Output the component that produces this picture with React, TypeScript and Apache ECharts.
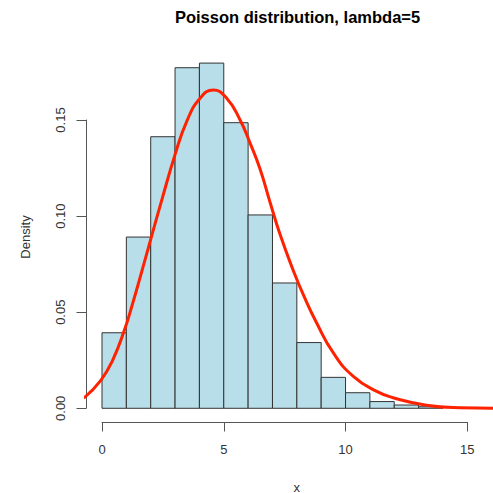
import React, { useEffect, useRef } from "react";
import * as echarts from "echarts";

// Histogram (density scale), breaks of width 1
const breaks = [0, 1, 2, 3, 4, 5, 6, 7, 8, 9, 10, 11, 12, 13, 14];
const densities = [0.0393, 0.0891, 0.1413, 0.1772, 0.1796, 0.1486, 0.1006, 0.0652, 0.0342, 0.0161, 0.0081, 0.0035, 0.0017, 0.0008];

// Fitted density curve
const curveX = [-0.75, -0.04, 0.44, 0.92, 1.26, 1.6, 2.08, 2.48, 3.0, 3.48, 4.02, 4.57, 5.12, 5.67, 6.08, 6.49, 6.9, 7.31, 7.86, 8.27, 8.81, 9.5, 10.32, 11.28, 11.95, 13.32, 14.7, 16.5];
const curveY = [0.0053, 0.0147, 0.0251, 0.0407, 0.0546, 0.0697, 0.0915, 0.1095, 0.1320, 0.1493, 0.1612, 0.1656, 0.1613, 0.1500, 0.1380, 0.1245, 0.1072, 0.0905, 0.0715, 0.0590, 0.0445, 0.0288, 0.0166, 0.0088, 0.0055, 0.0016, 0.0003, 0.0];

// Axis ticks
const xTicks = { min: 0, max: 15, interval: 5 };
const yTicks = { min: 0, max: 0.15, interval: 0.05 };

const title = "Poisson distribution, lambda=5";
const xLabel = "x";
const yLabel = "Density";

const FONT = '"Liberation Sans", Arial, Helvetica, sans-serif';

export default function App() {
  const ref = useRef<HTMLDivElement>(null);
  useEffect(() => {
    if (!ref.current) return;
    const chart = echarts.init(ref.current, undefined, { renderer: "svg" });

    const barData = densities.map((d, i) => [breaks[i], breaks[i + 1], d]);
    const curveData = curveX.map((x, i) => [x, curveY[i]]);

    const axisColor = "#555";
    const labelColor = "#333";

    chart.setOption({
      animation: false,
      backgroundColor: "#ffffff",
      grid: [
        { left: 86, top: 52, width: 407, height: 370 },
        { left: 86, top: 120, width: 10, height: 288.3 },
        { left: 102, top: 400, width: 365.3, height: 22 },
      ],
      xAxis: [
        { gridIndex: 0, type: "value", min: -0.657, max: 16.055, show: false },
        { gridIndex: 1, type: "value", min: 0, max: 1, show: false },
        {
          gridIndex: 2,
          type: "value",
          position: "bottom",
          min: xTicks.min,
          max: xTicks.max,
          interval: xTicks.interval,
          axisLine: { show: true, lineStyle: { color: axisColor, width: 1 } },
          axisTick: { show: true, inside: false, length: 9.5, lineStyle: { color: axisColor } },
          axisLabel: { show: true, margin: 21, fontSize: 13, color: labelColor, fontFamily: FONT },
          splitLine: { show: false },
        },
      ],
      yAxis: [
        { gridIndex: 0, type: "value", min: -0.00713, max: 0.18538, show: false },
        {
          gridIndex: 1,
          type: "value",
          position: "left",
          min: yTicks.min,
          max: yTicks.max,
          interval: yTicks.interval,
          axisLine: { show: true, lineStyle: { color: axisColor, width: 1 } },
          axisTick: { show: true, inside: false, length: 9.5, lineStyle: { color: axisColor } },
          axisLabel: {
            show: true,
            rotate: 90,
            margin: 19,
            fontSize: 13,
            color: labelColor,
            fontFamily: FONT,
            formatter: (v: number) => v.toFixed(2),
          },
          splitLine: { show: false },
        },
        { gridIndex: 2, type: "value", min: 0, max: 1, show: false },
      ],
      graphic: [
        {
          type: "text",
          x: 297.5,
          y: 17,
          style: {
            text: title,
            fontSize: 16.5,
            fontWeight: "bold",
            fontFamily: FONT,
            fill: "#000",
            align: "center",
            verticalAlign: "middle",
          },
        },
        {
          type: "text",
          x: 296.7,
          y: 487,
          style: {
            text: xLabel,
            fontSize: 13,
            fontFamily: FONT,
            fill: labelColor,
            align: "center",
            verticalAlign: "middle",
          },
        },
        {
          type: "text",
          x: 25,
          y: 237,
          rotation: Math.PI / 2,
          style: {
            text: yLabel,
            fontSize: 13,
            fontFamily: FONT,
            fill: labelColor,
            align: "center",
            verticalAlign: "middle",
          },
        },
      ],
      series: [
        {
          type: "custom",
          xAxisIndex: 0,
          yAxisIndex: 0,
          data: barData,
          encode: { x: [0, 1], y: 2 },
          renderItem: (params: any, api: any) => {
            const x0 = api.value(0);
            const x1 = api.value(1);
            const h = api.value(2);
            const p0 = api.coord([x0, h]);
            const p1 = api.coord([x1, 0]);
            return {
              type: "rect",
              shape: { x: p0[0], y: p0[1], width: p1[0] - p0[0], height: p1[1] - p0[1] },
              style: { fill: "#B8DEE9", stroke: "#333", lineWidth: 1 },
            };
          },
        },
        {
          type: "line",
          xAxisIndex: 0,
          yAxisIndex: 0,
          data: curveData,
          smooth: 0.5,
          showSymbol: false,
          symbol: "none",
          clip: true,
          lineStyle: { color: "#FF2200", width: 3 },
          z: 5,
        },
      ],
    });
    return () => chart.dispose();
  }, []);
  return (
    <div
      ref={ref}
      style={{ position: "fixed", left: 0, top: 0, width: 493, height: 493, background: "#fff" }}
    />
  );
}
